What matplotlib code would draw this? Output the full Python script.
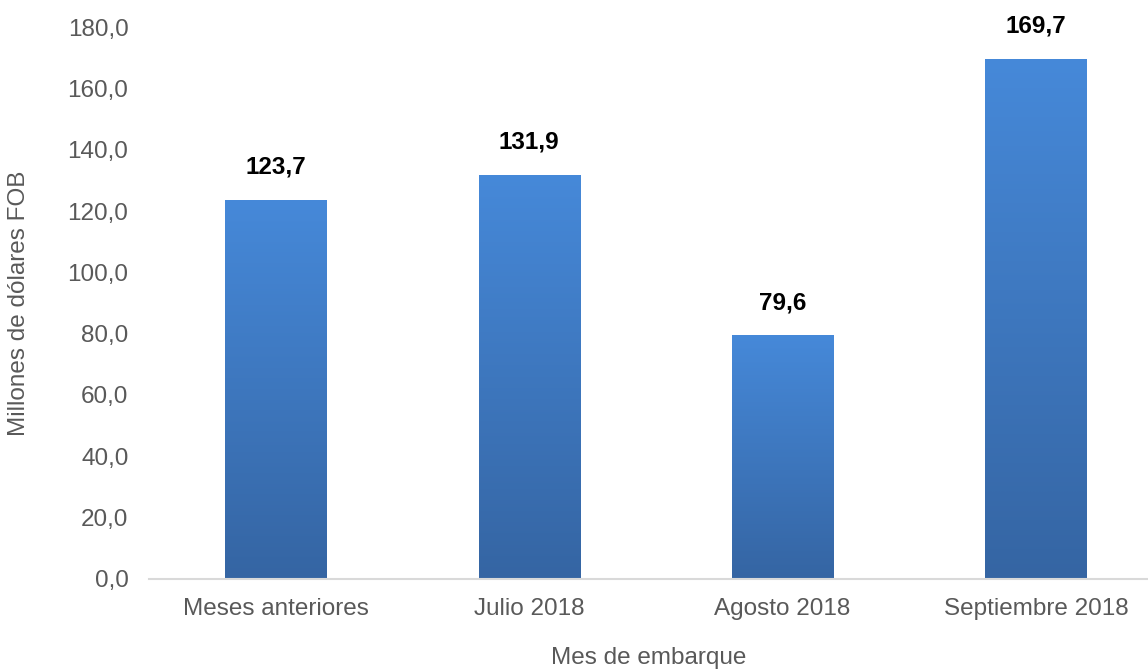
import matplotlib
matplotlib.use("Agg")
import matplotlib.pyplot as plt
import numpy as np
from matplotlib.colors import LinearSegmentedColormap

categories = ["Meses anteriores", "Julio 2018", "Agosto 2018", "Septiembre 2018"]
values = [123.7, 131.9, 79.6, 169.7]
yticks = [0, 20, 40, 60, 80, 100, 120, 140, 160, 180]

plt.rcParams['font.family'] = ['Liberation Sans', 'DejaVu Sans']

W, H = 1148, 669
fig = plt.figure(figsize=(W/100, H/100), dpi=100)
left = 149.3 / W
bottom = (H - 579) / H
top = (H - 27) / H
ax = fig.add_axes([left, bottom, 1 - left, top - bottom])

x = np.arange(len(categories))
bw = 0.4
bars = ax.bar(x, values, width=bw, color='none', edgecolor='none', zorder=2)

cmap = LinearSegmentedColormap.from_list('g', ['#3565A3', '#4689D9'])
grad = np.linspace(0, 1, 256).reshape(-1, 1)
for b in bars:
    x0 = b.get_x(); w = b.get_width(); h = b.get_height()
    im = ax.imshow(grad, extent=[x0, x0 + w, 0, h], origin='lower', cmap=cmap,
                   aspect='auto', zorder=2, interpolation='bicubic')
    im.set_clip_path(b)

for xi, v in zip(x, values):
    ax.annotate(f"{v:.1f}".replace('.', ','), (xi, v), xytext=(0, 15),
                textcoords='offset points', ha='center', va='bottom',
                fontsize=17.5, fontweight='bold', color='black')

ax.set_xlim(-0.5, -0.5 + (W - 149.3) / 253.3)
ax.set_ylim(0, 180)
ax.set_yticks(yticks)
ax.set_yticklabels([f"{t:.1f}".replace('.', ',') for t in yticks])
ax.set_xticks(x)
ax.set_xticklabels(categories)

for s in ['top', 'right', 'left']:
    ax.spines[s].set_visible(False)
ax.spines['bottom'].set_color('#D9D9D9')
ax.spines['bottom'].set_linewidth(1.5)
ax.tick_params(axis='both', length=0, labelsize=17.5, labelcolor='#595959')
ax.tick_params(axis='y', pad=15)
ax.tick_params(axis='x', pad=14)

ax.set_xlabel("Mes de embarque", fontsize=17.5, color='#595959', labelpad=19)
ax.set_ylabel("Millones de dólares FOB", fontsize=17.5, color='#595959', labelpad=27)

fig.savefig("out.png", dpi=100)
